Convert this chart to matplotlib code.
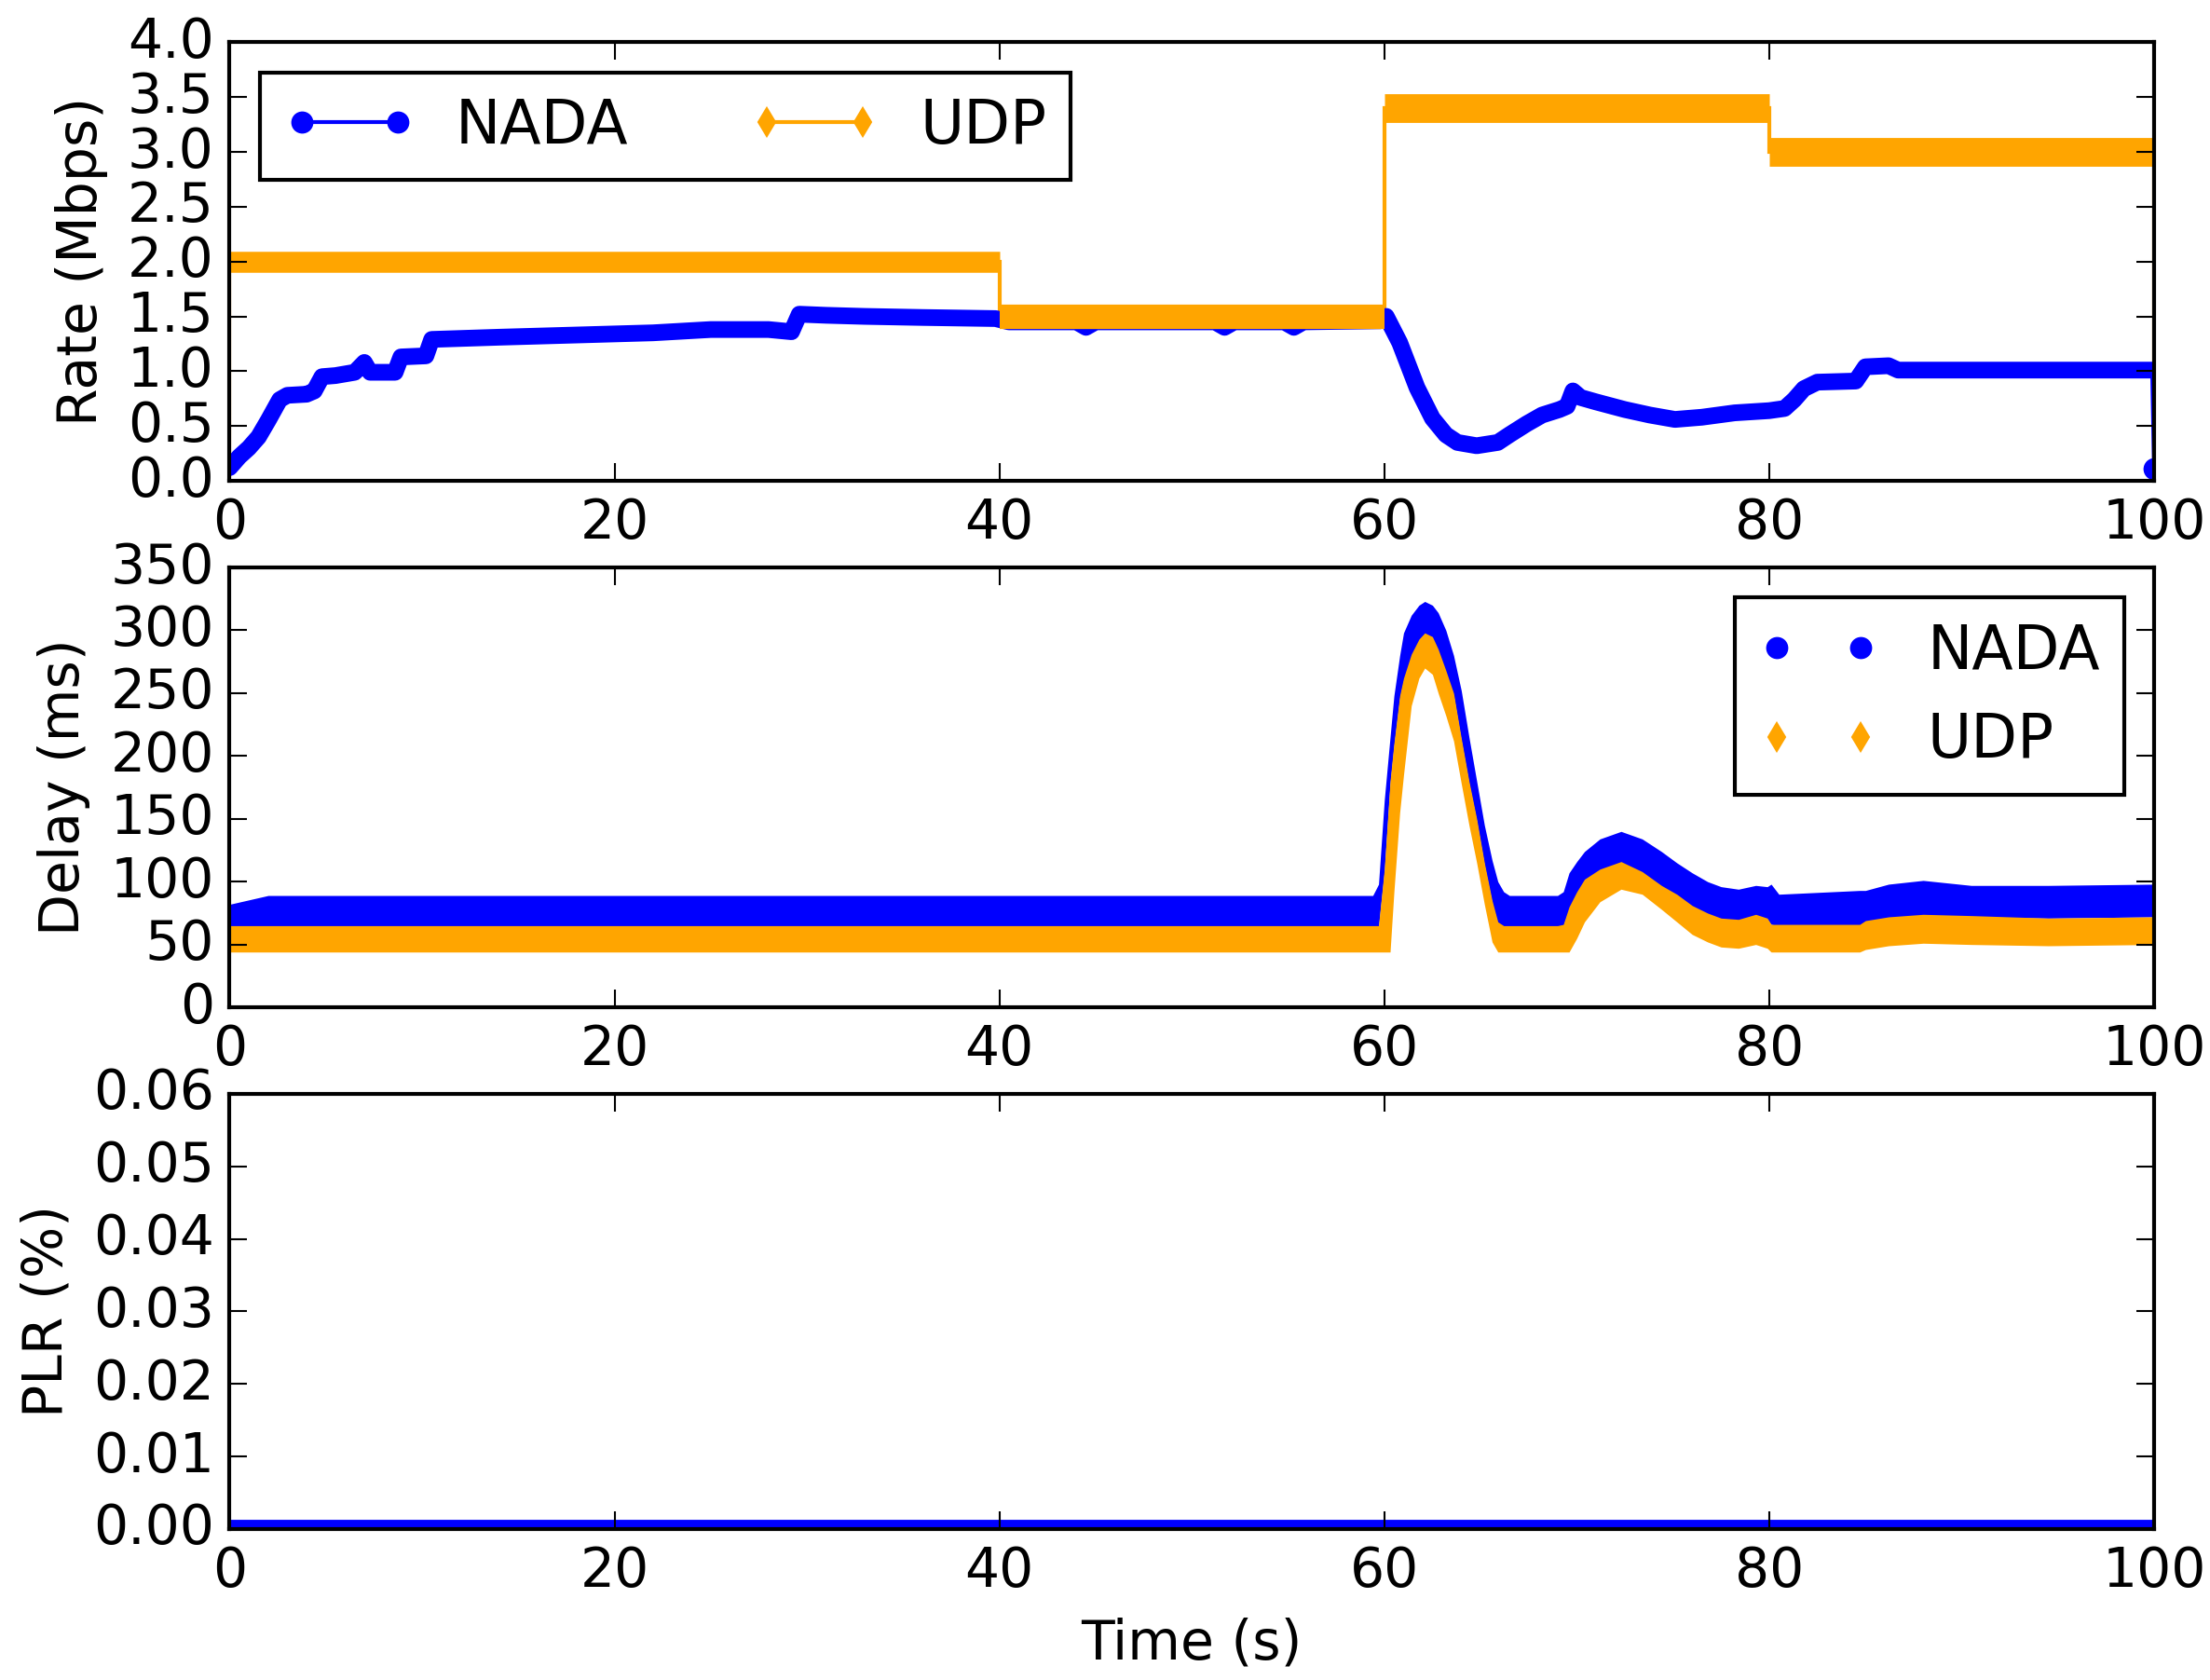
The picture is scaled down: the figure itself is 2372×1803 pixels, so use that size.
import matplotlib.pyplot as plt
import numpy as np
from matplotlib.lines import Line2D

# --- Rate (Mbps) ---
nada_rate_t = [0.0, 0.5, 1.0, 1.5, 2.0, 2.6, 3.0, 4.0, 4.4, 4.8, 5.5, 6.5, 7.0, 7.3,
               8.6, 8.9, 10.2, 10.5, 14.0, 18.0, 22.0, 25.0, 28.0, 29.2, 29.6, 31.0,
               33.0, 36.0, 39.8, 40.5, 44.0, 44.5, 45.0, 51.2, 51.7, 52.2, 54.8, 55.3,
               55.8, 59.8, 60.1, 60.8, 61.7, 62.5, 63.2, 63.8, 64.8, 65.9, 66.5, 67.4,
               68.2, 69.1, 69.5, 69.8, 70.2, 71.0, 72.5, 73.8, 75.1, 76.5, 78.2, 80.0,
               80.8, 81.3, 81.8, 82.5, 84.5, 85.0, 86.2, 86.7, 99.9, 100.0]
nada_rate = [0.12, 0.22, 0.30, 0.40, 0.55, 0.74, 0.78, 0.79, 0.82, 0.95, 0.96, 0.99, 1.08, 0.99,
             0.99, 1.13, 1.14, 1.29, 1.31, 1.33, 1.35, 1.38, 1.38, 1.36, 1.52, 1.51,
             1.50, 1.49, 1.48, 1.45, 1.45, 1.40, 1.45, 1.45, 1.40, 1.45, 1.45, 1.40,
             1.45, 1.46, 1.50, 1.26, 0.85, 0.57, 0.42, 0.35, 0.32, 0.35, 0.42, 0.52,
             0.60, 0.65, 0.68, 0.82, 0.76, 0.72, 0.65, 0.60, 0.56, 0.58, 0.62, 0.64,
             0.66, 0.74, 0.84, 0.90, 0.91, 1.04, 1.05, 1.01, 1.01, 0.11]
udp_rate_edges = [0, 40, 60, 80, 100]
udp_rate_levels = [2.0, 1.5, 3.4, 3.0]

# --- Delay (ms): spread of the samples, lower / upper envelope ---
delay_t = [0.0, 2.0, 59.4, 59.7, 60.0, 60.3, 60.5, 60.8, 61.0, 61.4, 61.8, 62.1, 62.5,
           62.8, 63.2, 63.6, 64.0, 64.4, 64.8, 65.2, 65.6, 65.9, 66.2, 66.5, 69.0,
           69.3, 69.6, 70.0, 70.4, 71.2, 72.3, 73.4, 74.4, 75.2, 76.0, 76.8, 77.5,
           78.4, 79.3, 79.9, 80.1, 80.5, 84.7, 85.0, 86.2, 88.0, 90.5, 94.5, 100.0]
nada_delay_hi = [82, 89, 89, 98, 165, 215, 248, 280, 298, 312, 320, 323, 320,
                 314, 300, 280, 252, 215, 180, 145, 117, 100, 92, 89, 89,
                 92, 107, 116, 124, 134, 140, 134, 124, 115, 107, 100, 96,
                 94, 97, 96, 98, 90, 93, 93, 98, 101, 97, 97, 98]
nada_delay_lo = [64, 64, 64, 64, 108, 178, 208, 246, 260, 279, 291, 296, 293,
                 283, 266, 248, 212, 178, 148, 113, 83, 66, 64, 64, 64,
                 65, 78, 90, 100, 108, 114, 106, 95, 88, 80, 74, 70,
                 69, 72, 70, 66, 65, 65, 68, 71, 73, 72, 71, 72]
udp_delay_hi = [65, 65, 65, 65, 110, 180, 210, 248, 262, 281, 293, 298, 295,
                285, 268, 250, 214, 180, 150, 115, 85, 68, 65, 65, 65,
                66, 80, 92, 102, 110, 116, 108, 97, 90, 81, 75, 71,
                70, 74, 71, 66, 66, 66, 69, 72, 74, 73, 71, 72]
udp_delay_lo = [44, 44, 44, 44, 44, 44, 92, 155, 185, 240, 262, 270, 265,
                250, 232, 212, 178, 145, 115, 82, 52, 44, 44, 44, 44,
                44, 44, 55, 68, 84, 94, 90, 78, 68, 58, 52, 48,
                47, 50, 47, 44, 44, 44, 46, 49, 51, 50, 49, 50]

# --- Packet loss ratio (%) ---
plr_t = [0, 100]
plr_nada = [0.0, 0.0]

plt.style.use('classic')
plt.rcParams.update({
    'font.size': 14,
    'legend.fontsize': 15.5,
    'xtick.major.size': 4.5,
    'ytick.major.size': 4.5,
})

NADA_C = 'b'
UDP_C = 'orange'

fig = plt.figure(figsize=(2372 / 300, 1803 / 300), dpi=300, facecolor='white')
left, width = 0.1039, 0.8708
ax1 = fig.add_axes([left, 0.7138, width, 0.2610])
ax2 = fig.add_axes([left, 0.4004, width, 0.2618])
ax3 = fig.add_axes([left, 0.0899, width, 0.2590])

# Panel 1: sending rate
ax1.plot(nada_rate_t[:-1], nada_rate[:-1], color=NADA_C, lw=4.3,
         solid_capstyle='round', solid_joinstyle='round')
ax1.plot(nada_rate_t[-2:], nada_rate[-2:], color=NADA_C, lw=1,
         marker='o', markersize=5.2, markevery=[1], markeredgecolor=NADA_C)
ax1.stairs(udp_rate_levels, udp_rate_edges, baseline=0, color=UDP_C, lw=1)
ax1.hlines(udp_rate_levels, udp_rate_edges[:-1], udp_rate_edges[1:],
           colors=UDP_C, linewidths=[5.4, 6.3, 7.4, 7.4])
ax1.set_xlim(0, 100)
ax1.set_ylim(0, 4)
ax1.set_xticks(np.arange(0, 101, 20))
ax1.set_yticks(np.arange(0, 4.01, 0.5))
ax1.set_ylabel('Rate (Mbps)')
h_nada = Line2D([], [], color=NADA_C, marker='o', markersize=5.2, markeredgecolor=NADA_C)
h_udp = Line2D([], [], color=UDP_C, marker='d', markersize=5.2, markeredgecolor=UDP_C)
ax1.legend([h_nada, h_udp], ['NADA', 'UDP'], loc='upper left', ncol=2, numpoints=2,
           handlelength=2.2, handletextpad=0.65)

# Panel 2: one-way delay
ax2.fill_between(delay_t, nada_delay_lo, nada_delay_hi, color=NADA_C, lw=0)
ax2.fill_between(delay_t, udp_delay_lo, udp_delay_hi, color=UDP_C, lw=0)
ax2.set_xlim(0, 100)
ax2.set_ylim(0, 350)
ax2.set_xticks(np.arange(0, 101, 20))
ax2.set_yticks(np.arange(0, 351, 50))
ax2.set_ylabel('Delay (ms)')
p_nada = Line2D([], [], color=NADA_C, ls='none', marker='o', markersize=5.2, markeredgecolor=NADA_C)
p_udp = Line2D([], [], color=UDP_C, ls='none', marker='d', markersize=5.2, markeredgecolor=UDP_C)
ax2.legend([p_nada, p_udp], ['NADA', 'UDP'], loc='upper right', numpoints=2)

# Panel 3: packet loss
ax3.plot(plr_t, plr_nada, color=NADA_C, lw=5)
ax3.set_xlim(0, 100)
ax3.set_ylim(0, 0.06)
ax3.set_xticks(np.arange(0, 101, 20))
ax3.set_yticks(np.arange(0, 0.061, 0.01))
ax3.set_ylabel('PLR (%)')
ax3.set_xlabel('Time (s)')

fig.savefig('out.png', dpi=300, facecolor='white')
